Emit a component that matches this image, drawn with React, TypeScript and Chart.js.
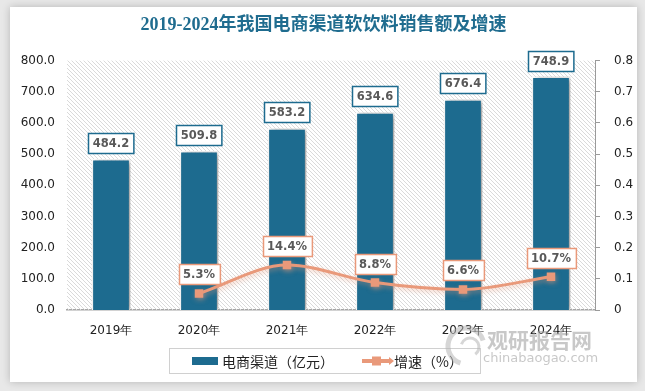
import React, { useEffect, useRef } from "react";
import { Chart, registerables } from "chart.js";

Chart.register(...registerables);

const categories = ["2019年", "2020年", "2021年", "2022年", "2023年", "2024年"];
const salesValues = [484.2, 509.8, 583.2, 634.6, 676.4, 748.9];
const growthValues: (number | null)[] = [null, 0.053, 0.144, 0.088, 0.066, 0.107];
const growthLabels = ["", "5.3%", "14.4%", "8.8%", "6.6%", "10.7%"];
const titleText = "2019-2024年我国电商渠道软饮料销售额及增速";
const salesLabel = "电商渠道（亿元）";
const growthLabel = "增速（%）";
const watermarkCn = "观研报告网";
const watermarkEn = "chinabaogao.com";

const BLUE = "#1d6b8f";
const ORANGE = "#e9997a";
const LABEL_FONT = "bold 11.5px 'DejaVu Sans'";

function roundBox(ctx: CanvasRenderingContext2D, cx: number, bottom: number, text: string, border: string) {
  ctx.font = LABEL_FONT;
  const w = ctx.measureText(text).width + 9;
  const h = 20;
  const x = Math.round(cx - w / 2) + 0.5;
  const y = Math.round(bottom - h) + 0.5;
  ctx.fillStyle = "#ffffff";
  ctx.fillRect(x, y, w, h);
  ctx.strokeStyle = border;
  ctx.lineWidth = 1.5;
  ctx.strokeRect(x, y, w, h);
  ctx.fillStyle = "#595959";
  ctx.textAlign = "center";
  ctx.textBaseline = "middle";
  ctx.fillText(text, cx, y + h / 2 + 0.5);
}

const hatchPlugin = {
  id: "hatch",
  beforeDatasetsDraw(chart: any) {
    const { ctx, chartArea } = chart;
    const tile = document.createElement("canvas");
    tile.width = 4;
    tile.height = 4;
    const t = tile.getContext("2d")!;
    t.fillStyle = "#dadada";
    for (let i = 0; i < 4; i++) t.fillRect(i, i, 1, 1);
    const pat = ctx.createPattern(tile, "repeat");
    ctx.save();
    ctx.fillStyle = pat;
    ctx.fillRect(chartArea.left, chartArea.top, chartArea.right - chartArea.left, chartArea.bottom - chartArea.top);
    ctx.restore();
  },
};

const shadowPlugin = {
  id: "shadows",
  beforeDatasetDraw(chart: any, args: any) {
    const ctx = chart.ctx;
    ctx.save();
    if (args.index === 0) {
      ctx.shadowColor = "rgba(0,0,0,0.4)";
      ctx.shadowBlur = 6;
      ctx.shadowOffsetX = 3;
      ctx.shadowOffsetY = 1;
    } else {
      ctx.shadowColor = "rgba(233,153,122,0.5)";
      ctx.shadowBlur = 5;
      ctx.shadowOffsetX = 1;
      ctx.shadowOffsetY = 2;
    }
  },
  afterDatasetDraw(chart: any) {
    chart.ctx.restore();
  },
};

const labelsPlugin = {
  id: "valueLabels",
  afterDatasetsDraw(chart: any) {
    const ctx = chart.ctx;
    ctx.save();
    const barMeta = chart.getDatasetMeta(0);
    barMeta.data.forEach((bar: any, i: number) => {
      roundBox(ctx, bar.x, bar.y - 6, salesValues[i].toFixed(1), BLUE);
    });
    const lineMeta = chart.getDatasetMeta(1);
    lineMeta.data.forEach((pt: any, i: number) => {
      if (growthValues[i] == null) return;
      roundBox(ctx, pt.x, pt.y - 9, growthLabels[i], ORANGE);
    });
    ctx.restore();
  },
};

const legendPlugin = {
  id: "boxLegend",
  afterDraw(chart: any) {
    const ctx = chart.ctx;
    const ds = chart.data.datasets;
    ctx.save();
    const bx = 159.5, by = 341.5, bw = 311, bh = 25;
    ctx.strokeStyle = "#d0d0d0";
    ctx.lineWidth = 1;
    ctx.strokeRect(bx, by, bw, bh);
    const cy = by + bh / 2;
    ctx.fillStyle = BLUE;
    ctx.fillRect(182, cy - 4, 26, 8);
    ctx.font = "14px 'Noto Sans CJK SC'";
    ctx.fillStyle = "#222";
    ctx.textAlign = "left";
    ctx.textBaseline = "middle";
    ctx.fillText(ds[0].label, 212, cy + 1);
    ctx.strokeStyle = ORANGE;
    ctx.lineWidth = 4;
    ctx.beginPath();
    ctx.moveTo(352, cy);
    ctx.lineTo(381, cy);
    ctx.stroke();
    ctx.fillStyle = ORANGE;
    ctx.fillRect(362, cy - 4.5, 9, 9);
    ctx.beginPath();
    ctx.moveTo(379, cy - 4);
    ctx.lineTo(384, cy);
    ctx.lineTo(379, cy + 4);
    ctx.closePath();
    ctx.fill();
    ctx.fillStyle = "#222";
    ctx.fillText(ds[1].label, 384, cy + 1);

    // watermark
    ctx.globalAlpha = 0.55;
    ctx.strokeStyle = "#b5b5b5";
    ctx.lineWidth = 5;
    ctx.beginPath();
    ctx.arc(456, 339, 18, Math.PI * 0.6, Math.PI * 1.9);
    ctx.stroke();
    ctx.lineWidth = 3;
    ctx.beginPath();
    ctx.arc(460, 340, 9, Math.PI * 1.1, Math.PI * 2.3);
    ctx.stroke();
    ctx.fillStyle = "#9a9a9a";
    ctx.font = "bold 21px 'Noto Sans CJK SC'";
    ctx.textAlign = "left";
    ctx.fillText(watermarkCn, 477, 333);
    ctx.font = "13px 'DejaVu Sans'";
    ctx.fillText(watermarkEn, 473, 352);
    ctx.restore();
  },
};

export default function App() {
  const ref = useRef<HTMLCanvasElement | null>(null);
  useEffect(() => {
    if (!ref.current) return;
    const chart = new Chart(ref.current, {
      type: "bar",
      data: {
        labels: categories,
        datasets: [
          {
            type: "bar",
            label: salesLabel,
            data: salesValues,
            backgroundColor: BLUE,
            borderColor: "#ffffff",
            borderWidth: 1.5,
            barPercentage: 0.44,
            categoryPercentage: 1,
            yAxisID: "y",
            order: 1,
          },
          {
            type: "line",
            label: growthLabel,
            data: growthValues,
            borderColor: ORANGE,
            backgroundColor: ORANGE,
            borderWidth: 3,
            tension: 0.4,
            cubicInterpolationMode: "monotone",
            pointStyle: "rect",
            pointRadius: 6,
            pointBackgroundColor: ORANGE,
            pointBorderColor: ORANGE,
            pointBorderWidth: 0,
            yAxisID: "y1",
            order: 0,
          },
        ] as any,
      },
      options: {
        responsive: false,
        animation: false,
        layout: { padding: { left: 0, right: 0, top: 0, bottom: 32 } },
        plugins: {
          legend: { display: false },
          tooltip: { enabled: false },
          title: {
            display: true,
            text: titleText,
            color: "#1f6c8f",
            font: { family: "'Liberation Serif', 'Noto Sans CJK SC'", size: 18, weight: "bold", lineHeight: 1.2 },
            padding: { top: 8, bottom: 24 },
          },
        },
        scales: {
          x: {
            grid: { display: false, drawTicks: false },
            border: { display: true, color: "#a6a6a6", width: 1.5 },
            ticks: { color: "#222", font: { family: "'DejaVu Sans'", size: 12 }, padding: 14, maxRotation: 0 },
            afterFit: (s: any) => { s.height = 40; },
          },
          y: {
            position: "left",
            min: 0,
            max: 800,
            grid: { display: false, drawTicks: false },
            border: { display: false },
            ticks: {
              stepSize: 100,
              color: "#222",
              font: { family: "'DejaVu Sans'", size: 12 },
              padding: 12,
              callback: (v: any) => Number(v).toFixed(1),
            },
            afterFit: (s: any) => { s.width = 57; },
          },
          y1: {
            position: "right",
            min: 0,
            max: 0.8,
            grid: { display: true, drawOnChartArea: false, drawTicks: true, tickLength: 5, color: "#9a9a9a" },
            border: { display: true, color: "#9a9a9a", width: 1 },
            ticks: {
              stepSize: 0.1,
              color: "#222",
              font: { family: "'DejaVu Sans'", size: 12 },
              padding: 14,
              callback: (v: any) => (Number(v) === 0 ? "0" : Number(v).toFixed(1)),
            },
            afterFit: (s: any) => { s.width = 42; },
          },
        },
      } as any,
      plugins: [hatchPlugin, shadowPlugin, labelsPlugin, legendPlugin],
    });
    return () => chart.destroy();
  }, []);

  return (
    <div style={{ position: "fixed", left: 0, top: 0, width: 645, height: 391, background: "#e8e8e8", overflow: "hidden" }}>
      <div
        style={{
          position: "absolute",
          left: 10,
          top: 7,
          width: 627,
          height: 375,
          background: "#ffffff",
          boxShadow: "0 0 8px rgba(0,0,0,0.22)",
        }}
      >
        <canvas ref={ref} width={627} height={375} style={{ display: "block" }} />
      </div>
    </div>
  );
}
